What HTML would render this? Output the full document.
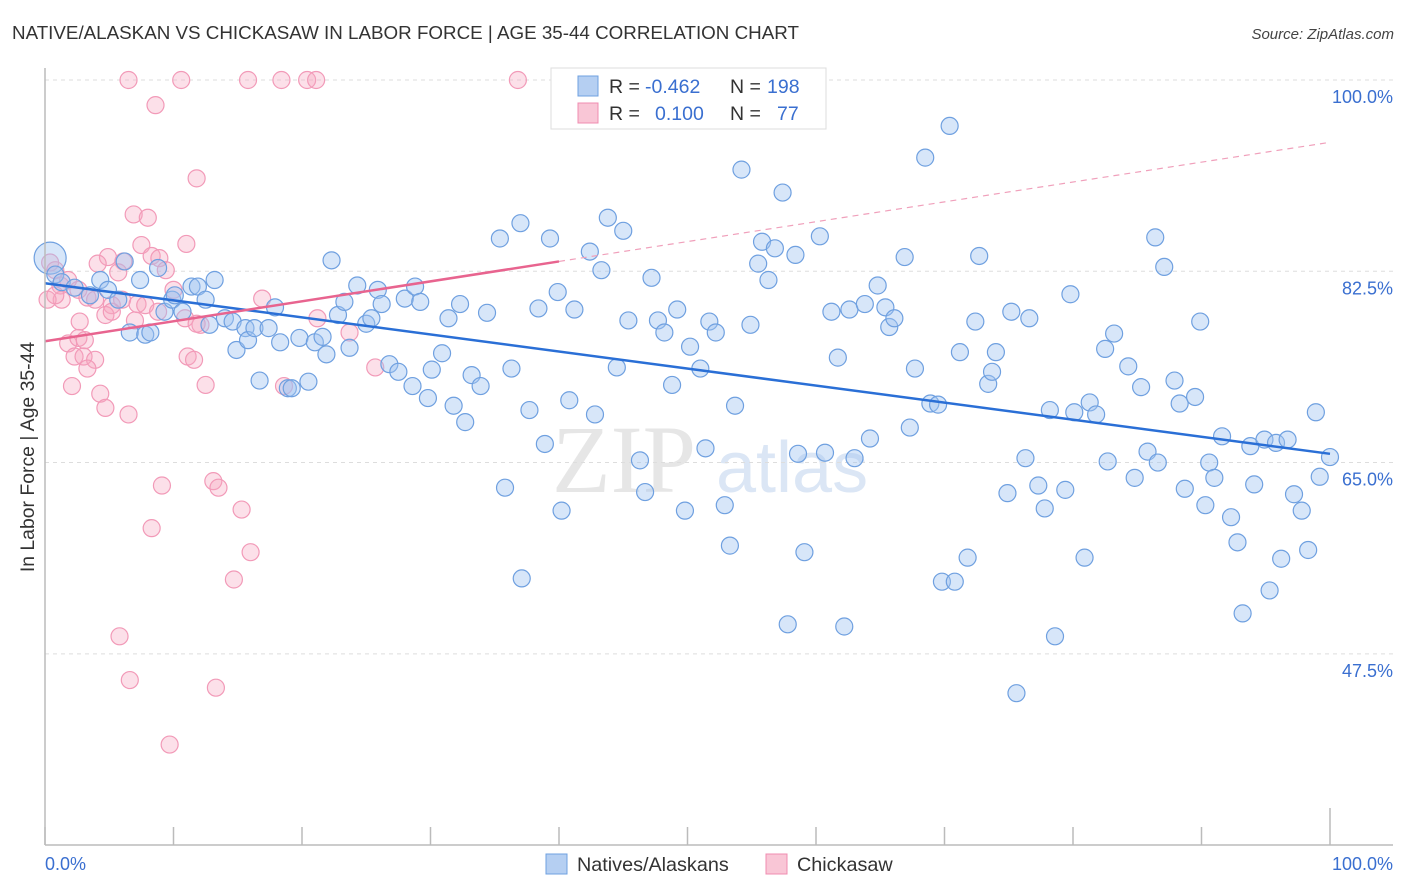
<!DOCTYPE html>
<html><head><meta charset="utf-8"><style>
body{margin:0;background:#fff;font-family:"Liberation Sans",sans-serif}
svg{display:block}
</style></head><body>
<svg id="c" width="1406" height="892" viewBox="0 0 1406 892" xmlns="http://www.w3.org/2000/svg">
<text x="12" y="39" font-size="18.8" fill="#333">NATIVE/ALASKAN VS CHICKASAW IN LABOR FORCE | AGE 35-44 CORRELATION CHART</text>
<text x="1394" y="39" font-size="15" fill="#444" font-style="italic" text-anchor="end">Source: ZipAtlas.com</text>
<text x="552" y="492" font-size="96" fill="#e6e6e6" font-family="Liberation Serif,serif">ZIP</text>
<text x="716" y="492" font-size="72" fill="#dbe6f5">atlas</text>
<text transform="translate(34,457) rotate(-90)" font-size="19.4" fill="#333" text-anchor="middle">In Labor Force | Age 35-44</text>
<g id="grid"></g><g id="pts"></g><g id="lines"></g>
<line x1="45" y1="68" x2="45" y2="845" stroke="#bbb" stroke-width="1.5"/>
<line x1="45" y1="845" x2="1393" y2="845" stroke="#bbb" stroke-width="1.5"/>
<g id="ticks"></g>
<text x="45" y="870" font-size="18" fill="#3a6fd0">0.0%</text>
<text x="1393" y="870" font-size="18" fill="#3a6fd0" text-anchor="end">100.0%</text>
<g>
<rect x="551" y="68" width="275" height="61" fill="#fff" stroke="#ddd"/>
<rect x="578" y="76" width="20" height="20" fill="#b5cff2" stroke="#6fa0e0"/>
<text x="609" y="93" font-size="19.5" fill="#333">R = </text><text x="645" y="93" font-size="19.5" fill="#3a6fd0">-0.462</text>
<text x="730" y="93" font-size="19.5" fill="#333">N = </text><text x="767" y="93" font-size="19.5" fill="#3a6fd0">198</text>
<rect x="578" y="103" width="20" height="20" fill="#f9c6d6" stroke="#f08cb0"/>
<text x="609" y="120" font-size="19.5" fill="#333">R = </text><text x="655" y="120" font-size="19.5" fill="#3a6fd0">0.100</text>
<text x="730" y="120" font-size="19.5" fill="#333">N = </text><text x="777" y="120" font-size="19.5" fill="#3a6fd0">77</text>
</g>
<g>
<rect x="546" y="854" width="21" height="20" fill="#b5cff2" stroke="#6fa0e0"/>
<text x="577" y="871" font-size="19.8" fill="#333">Natives/Alaskans</text>
<rect x="766" y="854" width="21" height="20" fill="#f9c6d6" stroke="#f08cb0"/>
<text x="797" y="871" font-size="19.8" fill="#333">Chickasaw</text>
</g>
</svg>
<script>
const blueX=[0.4,0.8,1.3,2.3,3.5,4.3,4.9,5.7,6.2,6.6,7.4,7.8,8.2,8.8,9.3,9.9,10.1,10.7,11.4,11.9,12.5,12.8,13.2,14.0,14.6,14.9,15.6,15.8,16.3,16.7,17.4,17.9,18.3,18.9,19.2,19.8,20.5,21.0,21.6,21.9,22.3,22.8,23.3,23.7,24.3,25.0,25.4,25.9,26.2,26.8,27.5,28.0,28.6,28.8,29.2,29.8,30.1,30.9,31.4,31.8,32.3,32.7,33.2,33.9,34.4,35.4,35.8,36.3,37.0,37.1,37.7,38.4,38.9,39.3,39.9,40.2,40.8,41.2,42.4,42.8,43.3,43.8,44.5,45.0,45.4,46.3,46.7,47.2,47.7,48.2,48.8,49.2,49.8,50.2,51.0,51.4,51.7,52.2,52.9,53.3,53.7,54.2,54.9,55.5,55.8,56.3,56.8,57.4,57.8,58.4,58.6,59.1,60.3,60.7,61.2,61.7,62.2,62.6,63.0,63.8,64.2,64.8,65.4,65.7,66.1,66.9,67.3,67.7,68.5,68.9,69.5,69.8,70.4,70.8,71.2,71.8,72.4,72.7,73.4,73.7,74.0,74.9,75.2,75.6,76.3,76.6,77.3,77.8,78.2,78.6,79.4,79.8,80.1,80.9,81.3,81.8,82.5,82.7,83.2,84.3,84.8,85.3,85.8,86.4,86.6,87.1,87.9,88.3,88.7,89.5,89.9,90.3,90.6,91.0,91.6,92.3,92.8,93.2,93.8,94.1,94.9,95.3,95.8,96.2,96.7,97.2,97.8,98.3,98.9,99.2,100.0,60.1];
const blueY=[83.7,82.2,81.5,81.0,80.3,81.7,80.8,79.9,83.4,76.9,81.7,76.7,76.9,82.8,78.8,79.9,80.3,78.8,81.1,81.1,79.9,77.6,81.7,78.2,77.9,75.3,77.3,76.2,77.3,72.5,77.3,79.2,76.0,71.8,71.8,76.4,72.4,76.0,76.5,74.9,83.5,78.5,79.7,75.5,81.2,77.7,78.2,80.8,79.5,74.0,73.3,80.0,72.0,81.1,79.7,70.9,73.5,75.0,78.2,70.2,79.5,68.7,73.0,72.0,78.7,85.5,62.7,73.6,86.9,54.4,69.8,79.1,66.7,85.5,80.6,60.6,70.7,79.0,84.3,69.4,82.6,87.4,73.7,86.2,78.0,65.2,62.3,81.9,78.0,76.9,72.1,79.0,60.6,75.6,73.6,66.3,77.9,76.9,61.1,57.4,70.2,91.8,77.6,83.2,85.2,81.7,84.6,89.7,50.2,84.0,65.8,56.8,85.7,65.9,78.8,74.6,50.0,79.0,65.4,79.5,67.2,81.2,79.2,77.4,78.2,83.8,68.2,73.6,92.9,70.4,70.3,54.1,95.8,54.1,75.1,56.3,77.9,83.9,72.2,73.3,75.1,62.2,78.8,43.9,65.4,78.2,62.9,60.8,69.8,49.1,62.5,80.4,69.6,56.3,70.5,69.4,75.4,65.1,76.8,73.8,63.6,71.9,66.0,85.6,65.0,82.9,72.5,70.4,62.6,71.0,77.9,61.1,65.0,63.6,67.4,60.0,57.7,51.2,66.5,63.0,67.1,53.3,66.8,56.2,67.1,62.1,60.6,57.0,69.6,63.7,65.5,100.2];
const pinkX=[6.5,10.6,15.8,18.4,20.4,21.1,36.8,8.6,11.8,6.9,8.0,11.0,7.5,4.9,4.1,6.1,8.3,8.9,9.4,5.7,0.4,0.8,1.2,1.8,2.6,3.3,1.3,3.9,5.2,6.0,7.2,7.8,10.0,16.9,4.7,5.2,7.0,8.8,10.9,12.1,11.8,21.2,23.7,2.7,1.8,2.6,3.1,2.3,3.0,3.9,3.3,11.1,11.6,25.7,2.1,4.3,4.7,6.5,12.5,18.6,9.1,13.1,13.5,8.3,15.3,16.0,14.7,5.8,6.6,13.3,9.7,0.2,0.8];
const pinkY=[100,100,100,100,100,100,100,97.7,91.0,87.7,87.4,85.0,84.9,83.8,83.2,83.4,83.9,83.7,82.6,82.4,83.3,82.6,81.2,81.7,80.8,80.1,79.9,79.9,79.4,79.9,79.5,79.4,80.8,80.0,78.5,78.8,78.0,78.8,78.2,77.6,77.7,78.2,76.9,77.9,75.9,76.4,76.2,74.7,74.7,74.4,73.6,74.7,74.4,73.7,72.0,71.3,70.0,69.4,72.1,72.0,62.9,63.3,62.7,59.0,60.7,56.8,54.3,49.1,45.1,44.4,39.2,79.9,80.3];
const blueTrendX=[0,100], blueTrendY=[81.4,65.8];
const pinkTrendX=[0,40,100], pinkTrendY=[76.1,83.4,94.3];
const yTicks=[100,82.5,65,47.5];
const yTickLabels=["100.0%","82.5%","65.0%","47.5%"];
const xTicks=[0,10,20,30,40,50,60,70,80,90,100];
const sx=v=>45+v*12.85, sy=v=>80+(100-v)*10.93;
const NS="http://www.w3.org/2000/svg";
function mk(t,a,p){const e=document.createElementNS(NS,t);for(const k in a)e.setAttribute(k,a[k]);p.appendChild(e);return e;}
const grid=document.getElementById('grid'),pts=document.getElementById('pts'),lines=document.getElementById('lines'),ticks=document.getElementById('ticks');
yTicks.forEach((v,i)=>{
 const l=mk('line',{x1:45,x2:1393,y1:sy(v),y2:sy(v),stroke:'#ddd','stroke-dasharray':'4,4'},grid);
 
 
 const t=mk('text',{x:1393,y:sy(v)+23,'font-size':18,fill:'#3a6fd0','text-anchor':'end'},grid);
 t.textContent=yTickLabels[i];
 
 
});
xTicks.forEach(v=>{
 const l=mk('line',{x1:sx(v),x2:sx(v),y1:v===100?808:827,y2:845,stroke:'#bbb','stroke-width':1.5},ticks);
 
 
});
pinkX.forEach((x,i)=>{
 const c=mk('circle',{cx:sx(x),cy:sy(pinkY[i]),r:8.5,fill:'rgba(245,165,192,0.35)',stroke:'#f29ab8','stroke-width':1.2},pts);
 
 
});
blueX.forEach((x,i)=>{
 const c=mk('circle',{cx:sx(x),cy:sy(blueY[i]),r:i===0?16:8.5,fill:'rgba(160,196,240,0.42)',stroke:'#6fa0e0','stroke-width':1.2},pts);
 
 
});
const bl=mk('line',{x1:sx(blueTrendX[0]),y1:sy(blueTrendY[0]),x2:sx(blueTrendX[1]),y2:sy(blueTrendY[1]),stroke:'#2a6fd6','stroke-width':2.5},lines);


const pl=mk('line',{x1:sx(pinkTrendX[0]),y1:sy(pinkTrendY[0]),x2:sx(pinkTrendX[1]),y2:sy(pinkTrendY[1]),stroke:'#e8648f','stroke-width':2.5},lines);


const pd=mk('line',{x1:sx(pinkTrendX[1]),y1:sy(pinkTrendY[1]),x2:sx(pinkTrendX[2]),y2:sy(pinkTrendY[2]),stroke:'#f0a0bb','stroke-width':1.2,'stroke-dasharray':'6,5'},lines);


</script>
</body></html>
